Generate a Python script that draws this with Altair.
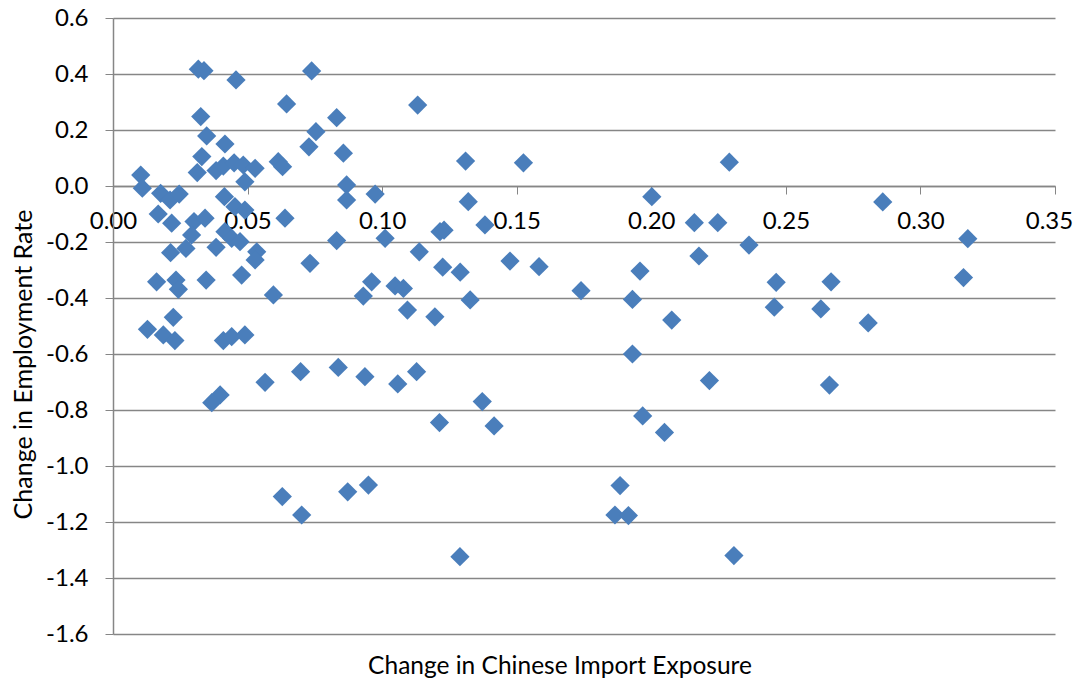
import altair as alt
import pandas as pd

x_vals = [0.0317, 0.0338, 0.0457, 0.0645, 0.0326, 0.0348, 0.0416, 0.0330, 0.0313, 0.0383,
          0.0410, 0.0450, 0.0484, 0.0528, 0.0490, 0.0614, 0.0630, 0.0103, 0.0109, 0.0177,
          0.0212, 0.0246, 0.0168, 0.0218, 0.0301, 0.0342, 0.0414, 0.0453, 0.0490, 0.0292,
          0.0271, 0.0214, 0.0383, 0.0416, 0.0441, 0.0472, 0.0534, 0.0528, 0.0162, 0.0234,
          0.0243, 0.0346, 0.0478, 0.0596, 0.0224, 0.0128, 0.0187, 0.0230, 0.0410, 0.0441,
          0.0490, 0.0565, 0.0398, 0.0367, 0.0738, 0.1132, 0.0831, 0.0754, 0.0728, 0.0856,
          0.0868, 0.0974, 0.0868, 0.0639, 0.0831, 0.1011, 0.0732, 0.1138, 0.0961, 0.0930,
          0.1048, 0.1079, 0.1094, 0.1196, 0.0697, 0.0837, 0.0936, 0.1058, 0.1128, 0.1213,
          0.1372, 0.1416, 0.0629, 0.0701, 0.0872, 0.0949, 0.1289, 0.1310, 0.1525, 0.1320,
          0.2002, 0.1382, 0.1215, 0.1230, 0.2160, 0.1225, 0.1290, 0.1475, 0.1583, 0.2177,
          0.1327, 0.1739, 0.1958, 0.1930, 0.2076, 0.2290, 0.2247, 0.2363, 0.2464, 0.2457,
          0.1930, 0.2216, 0.1968, 0.2049, 0.2860, 0.3176, 0.3160, 0.2668, 0.2630, 0.2806,
          0.2662, 0.1884, 0.1865, 0.1915, 0.2307]

y_vals = [0.417, 0.412, 0.379, 0.293, 0.248, 0.179, 0.150, 0.105, 0.048, 0.055,
          0.071, 0.083, 0.075, 0.063, 0.015, 0.087, 0.069, 0.039, -0.008, -0.026,
          -0.050, -0.029, -0.100, -0.133, -0.127, -0.115, -0.038, -0.074, -0.086, -0.175,
          -0.223, -0.238, -0.219, -0.163, -0.187, -0.199, -0.235, -0.264, -0.342, -0.336,
          -0.369, -0.336, -0.318, -0.389, -0.469, -0.512, -0.532, -0.552, -0.552, -0.538,
          -0.532, -0.701, -0.746, -0.774, 0.411, 0.289, 0.244, 0.194, 0.140, 0.117,
          0.004, -0.029, -0.050, -0.115, -0.195, -0.187, -0.276, -0.235, -0.342, -0.393,
          -0.357, -0.366, -0.443, -0.467, -0.663, -0.648, -0.681, -0.707, -0.663, -0.845,
          -0.770, -0.857, -1.109, -1.175, -1.092, -1.068, -1.324, 0.089, 0.083, -0.056,
          -0.038, -0.139, -0.163, -0.158, -0.131, -0.290, -0.308, -0.268, -0.288, -0.250,
          -0.407, -0.374, -0.304, -0.405, -0.479, 0.085, -0.131, -0.211, -0.344, -0.433,
          -0.600, -0.695, -0.821, -0.880, -0.057, -0.188, -0.327, -0.342, -0.439, -0.489,
          -0.711, -1.070, -1.175, -1.177, -1.320]

x_ticks = [0.0, 0.05, 0.10, 0.15, 0.20, 0.25, 0.30, 0.35]
y_ticks = [-1.6, -1.4, -1.2, -1.0, -0.8, -0.6, -0.4, -0.2, 0.0, 0.2, 0.4, 0.6]

x_title = "Change in Chinese Import Exposure"
y_title = "Change in Employment Rate"

df = pd.DataFrame({"x": x_vals, "y": y_vals})

GRID = "#868686"
FONT = "Lato"

chart = alt.Chart(df).mark_point(
    shape="diamond", filled=True, size=370, color="#4A7EBB", opacity=1
).encode(
    x=alt.X("x:Q",
            scale=alt.Scale(domain=[0, 0.35], nice=False, zero=False),
            axis=alt.Axis(values=x_ticks, format=".2f", offset=-448, grid=False,
                          domainColor=GRID, tickColor=GRID, tickSize=8, domainWidth=1.5,
                          labelFont=FONT, labelFontSize=24, labelColor="#000000",
                          labelPadding=15, labelFlush=False, labelOverlap=False,
                          labelOffset={"condition": {"test": "datum.value > 0.349", "value": -6},
                                       "value": 0},
                          title=None)),
    y=alt.Y("y:Q",
            scale=alt.Scale(domain=[-1.6, 0.6], nice=False, zero=False),
            axis=alt.Axis(values=y_ticks,
                          labelExpr="(datum.value < -0.001 ? '-' : '') + format(abs(datum.value), '.1f')",
                          grid=True, gridColor=GRID, gridWidth=1.5, gridOpacity=1,
                          domainColor=GRID, tickColor=GRID, tickSize=8, domainWidth=1.5,
                          labelFont=FONT, labelFontSize=24, labelColor="#000000",
                          labelPadding=17, labelFlush=False, labelOverlap=False,
                          title=y_title, titleFont=FONT, titleFontSize=25,
                          titleFontWeight="normal", titleColor="#000000",
                          titleX=-90, titleY=346, titleAngle=270,
                          titleAlign="center", titleBaseline="middle")),
).properties(
    width=942, height=616,
    title=alt.TitleParams(x_title, orient="bottom", anchor="middle", frame="group",
                          font=FONT, fontSize=24.5, fontWeight="normal", color="#000000",
                          dx=-24, offset=9),
    autosize=alt.AutoSizeParams(type="none"),
    padding={"left": 105, "top": 10, "right": 18, "bottom": 44},
).configure_view(stroke=None)

chart.save("out.html", embed_options={"renderer": "svg", "actions": False})
